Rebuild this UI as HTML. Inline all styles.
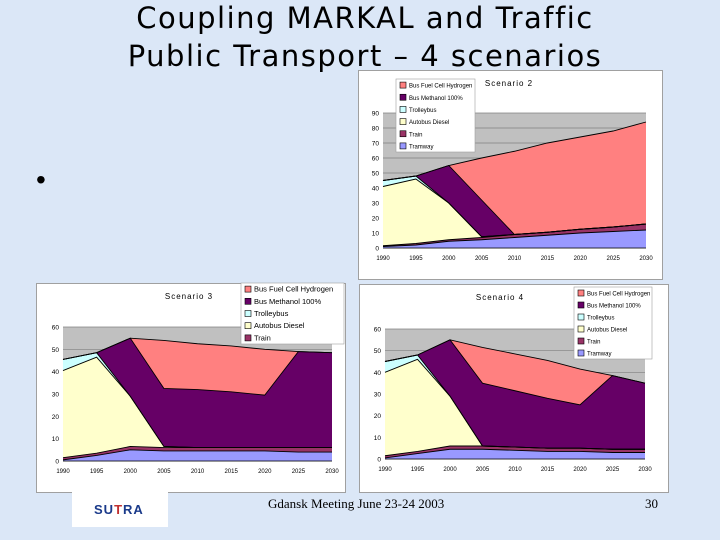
<!DOCTYPE html>
<html><head><meta charset="utf-8">
<style>
body{margin:0;width:720px;height:540px;overflow:hidden;background:#dbe7f7;font-family:"Liberation Sans",sans-serif;position:relative}
.title{position:absolute;left:0;width:730px;top:-1px;text-align:center;font-family:"DejaVu Sans",sans-serif;font-size:29px;letter-spacing:1.5px;line-height:38px;color:#000}
.panel{position:absolute;background:#fff;border:1px solid #a0a0a0}
svg{position:absolute;left:0;top:0}
.foot{position:absolute;font-family:"Liberation Serif",serif;font-size:13px;color:#000}
</style></head><body>
<div class="title">Coupling MARKAL and Traffic<br>Public Transport – 4 scenarios</div>
<div style="position:absolute;left:36px;top:164px;font-size:28px">•</div>
<div class="panel" style="left:358px;top:70px;width:303px;height:208px"></div>
<div class="panel" style="left:36px;top:283px;width:308px;height:208px"></div>
<div class="panel" style="left:359px;top:284px;width:308px;height:207px"></div>
<svg id="chart" width="720" height="540"></svg>
<div style="position:absolute;left:72px;top:490px;width:96px;height:37px;background:#fff">
<div style="position:absolute;left:22px;top:12px;font-weight:bold;font-size:13px;color:#1a3a8a;letter-spacing:1px">SU<span style="color:#c03030">T</span>RA</div></div>
<div class="foot" style="left:268px;top:496px">Gdansk Meeting June 23-24 2003</div>
<div class="foot" style="left:645px;top:496px">30</div>
<script>
const years=[1990,1995,2000,2005,2010,2015,2020,2025,2030];
const seriesNames=["Tramway","Train","Autobus Diesel","Trolleybus","Bus Methanol 100%","Bus Fuel Cell Hydrogen"];
const colors=["#9999ff","#993366","#ffffcc","#ccffff","#660066","#ff8080"];
const s2Tram=[1,2,4.5,5.5,7,8.5,10,11,12];
const s2Train=[0.5,1,1,1.5,2,2,2.5,3,4];
const s2Diesel=[39.5,43,24.5,0.5,0,0,0,0,0];
const s2Trolley=[4,2,0,0,0,0,0,0,0];
const s2Methanol=[0,0,25,24.5,0,0,0,0,0];
const s2H2=[0,0,0,28,55.5,59.5,61.5,64,68];
const s3Tram=[0.5,2.5,5,4.5,4.5,4.5,4.5,4,4];
const s3Train=[1,1,1.5,1.5,1.5,1.5,1.5,2,2];
const s3Diesel=[39,43,22.5,0.5,0,0,0,0,0];
const s3Trolley=[5,2,0,0,0,0,0,0,0];
const s3Methanol=[0,0,26,26,26,25,23.5,43,42.5];
const s3H2=[0,0,0,21.5,20.5,20.5,20.5,0,0];
const s4Tram=[0.5,2.5,4.5,4.5,4,3.5,3.5,3,3];
const s4Train=[1,1,1.5,1.5,1.5,1.5,1.5,1.5,1.5];
const s4Diesel=[38.5,42.5,23,0,0,0,0,0,0];
const s4Trolley=[5,2,0,0,0,0,0,0,0];
const s4Methanol=[0,0,26,29,26,23,20,34,30.5];
const s4H2=[0,0,0,16.5,17,17.5,16.5,0,0];
const s2Ticks=[0,10,20,30,40,50,60,70,80,90];
const s34Ticks=[0,10,20,30,40,50,60];

const svg=document.getElementById('chart');
const NS='http://www.w3.org/2000/svg';
function mk(tag,attrs,parent){const e=document.createElementNS(NS,tag);for(const k in attrs)e.setAttribute(k,attrs[k]);(parent||svg).appendChild(e);return e;}

function drawChart(cfg){
  const g=mk('g',{});
  
  
  const yMax=cfg.ticks[cfg.ticks.length-1];
  const xs=i=>cfg.x0+(cfg.x1-cfg.x0)*(years[i]-years[0])/(years[years.length-1]-years[0]);
  const ys=v=>cfg.y1-(cfg.y1-cfg.y0)*v/yMax;
  const bg=mk('rect',{x:cfg.x0,y:cfg.y0,width:cfg.x1-cfg.x0,height:cfg.y1-cfg.y0,fill:'#c0c0c0'},g);
  
  
  cfg.ticks.forEach(t=>{
    const l=mk('line',{x1:cfg.x0,x2:cfg.x1,y1:ys(t),y2:ys(t),stroke:'#808080','stroke-width':0.7},g);
    
    
    const tx=mk('text',{x:cfg.x0-4,y:ys(t)+2.5,'font-size':6.5,'text-anchor':'end',fill:'#000'},g);
    tx.textContent=t;
    
    
  });
  let lower=years.map(()=>0);
  cfg.series.forEach((s,k)=>{
    const upper=lower.map((v,i)=>v+s[i]);
    let pts=[];
    years.forEach((y,i)=>pts.push(xs(i)+','+ys(upper[i])));
    for(let i=years.length-1;i>=0;i--)pts.push(xs(i)+','+ys(lower[i]));
    const p=mk('polygon',{points:pts.join(' '),fill:colors[k],stroke:'none'},g);
    
    
    lower=upper;
  });
  let acc=years.map(()=>0);
  cfg.series.forEach((s,k)=>{
    acc=acc.map((v,i)=>v+s[i]);
    const pl=mk('polyline',{points:years.map((y,i)=>xs(i)+','+ys(acc[i])).join(' '),fill:'none',stroke:'#000','stroke-width':0.9},g);
    
    
  });
  mk('line',{x1:cfg.x0,x2:cfg.x1,y1:cfg.y1,y2:cfg.y1,stroke:'#000','stroke-width':0.8},g);
  years.forEach((y,i)=>{
    const tx=mk('text',{x:xs(i),y:cfg.y1+12,'font-size':6,'text-anchor':'middle',fill:'#000'},g);
    tx.textContent=y;
    
    
  });
  const tt=mk('text',{x:cfg.tx,y:cfg.ty,'font-size':8,'text-anchor':'middle','letter-spacing':1,fill:'#000'},g);
  tt.textContent=cfg.title;
  
  
  const L=cfg.legend;
  const lb=mk('rect',{x:L.x,y:L.y,width:L.w,height:L.h,fill:'#fff',stroke:'#a0a0a0','stroke-width':0.6},g);
  
  
  const n=L.count;
  for(let j=0;j<n;j++){
    const k=5-j;
    const yy=L.y+L.h*(j+0.5)/n;
    const sw=mk('rect',{x:L.x+4,y:yy-3,width:6,height:6,fill:colors[k],stroke:'#000','stroke-width':0.6},g);
    
    
    const lt=mk('text',{x:L.x+13,y:yy+2.5,'font-size':L.fs,fill:'#000'},g);
    lt.textContent=seriesNames[k];
    
    
  }
}
drawChart({name:'scenario-2-chart',title:'Scenario 2',x0:383,x1:646,y0:113,y1:248,ticks:s2Ticks,
  series:[s2Tram,s2Train,s2Diesel,s2Trolley,s2Methanol,s2H2],tx:509,ty:86,
  legend:{x:396,y:79,w:79,h:73,count:6,fs:6}});
drawChart({name:'scenario-3-chart',title:'Scenario 3',x0:63,x1:332,y0:327,y1:461,ticks:s34Ticks,
  series:[s3Tram,s3Train,s3Diesel,s3Trolley,s3Methanol,s3H2],tx:189,ty:299,
  legend:{x:241,y:283,w:103,h:61,count:5,fs:7.5}});
drawChart({name:'scenario-4-chart',title:'Scenario 4',x0:385,x1:645,y0:329,y1:459,ticks:s34Ticks,
  series:[s4Tram,s4Train,s4Diesel,s4Trolley,s4Methanol,s4H2],tx:500,ty:300,
  legend:{x:574,y:287,w:78,h:72,count:6,fs:6}});
</script>
</body></html>
